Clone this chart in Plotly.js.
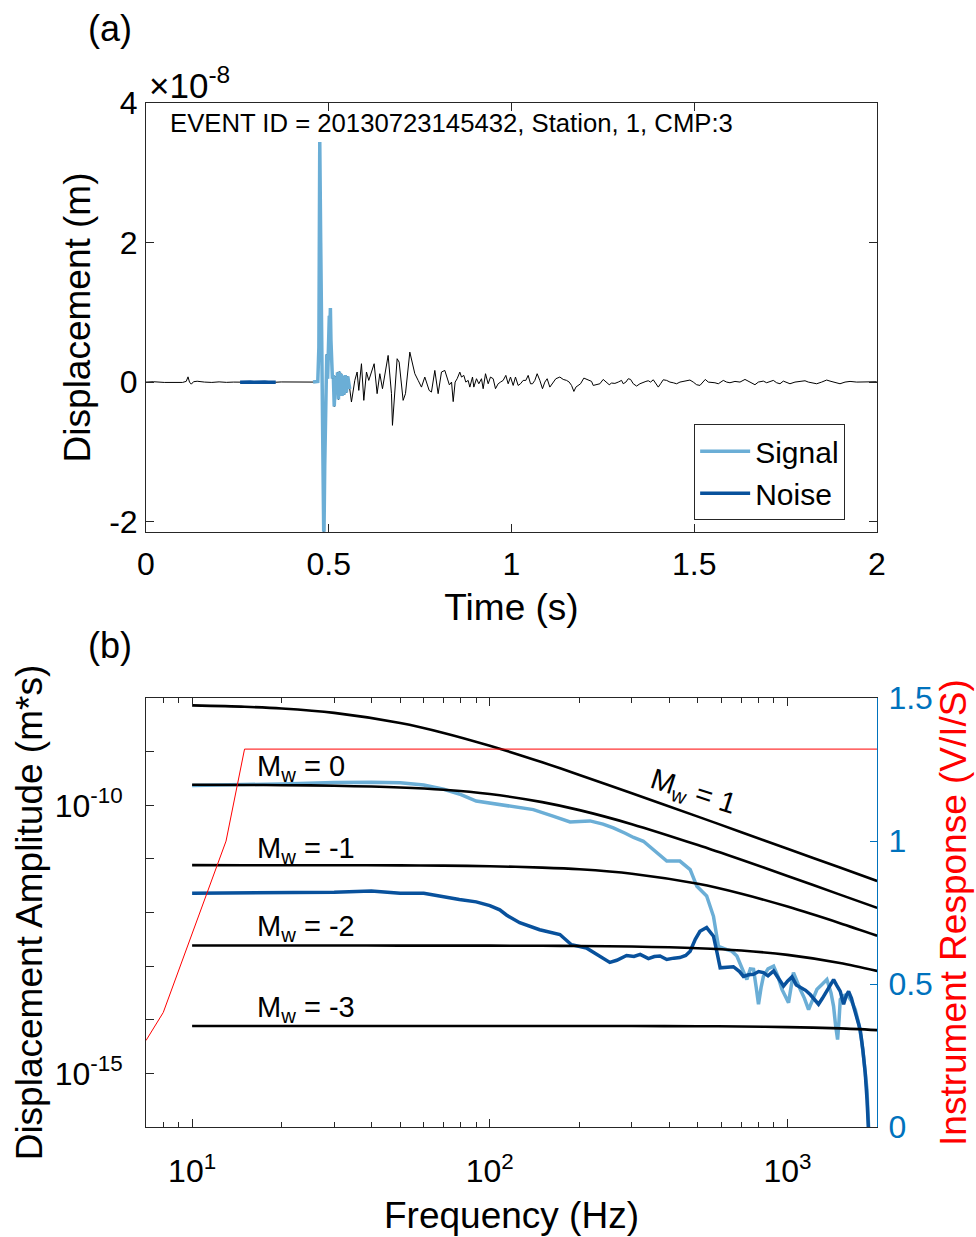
<!DOCTYPE html>
<html>
<head>
<meta charset="utf-8">
<script src="https://cdn.plot.ly/plotly-3.0.1.min.js"></script>
<style>html,body{margin:0;padding:0;background:#fff}#chart{width:976px;height:1237px}</style>
</head>
<body>
<div id="chart"></div>
<script>
// ---------------- (a) waveform data (displacement in units of 1e-8 m) ----------------
const timeS = [0,0.02,0.05,0.08,0.10,0.110,0.115,0.119,0.124,0.130,0.14,0.16,0.18,0.20,0.22,0.24,0.2574,0.265,0.275,0.285,0.295,0.305,0.315,0.325,0.335,0.345,0.355,0.37,0.39,0.41,0.43,0.445,
0.457,0.4650,0.4700,0.4730,0.4754,0.4780,0.4809,0.4840,0.4866,0.4890,0.4918,0.4945,0.4970,0.4995,0.5015,0.5030,0.5045,0.5060,0.5080,0.5100,0.5125,0.5150,0.5170,0.5190,0.5215,0.5240,0.5265,0.5290,0.5315,0.5340,0.5365,0.5390,0.5420,0.5450,0.5480,0.5520,0.5575,
0.5621,0.5713,0.5776,0.5822,0.5895,0.5959,0.6032,0.6095,0.6242,0.6323,0.6397,0.6470,0.6625,0.6716,0.6743,0.6871,0.6926,0.7035,0.7099,0.7218,0.7355,0.7446,0.7537,0.7628,0.7747,0.7810,0.7902,0.7993,0.8084,0.8175,0.8300,0.8360,0.8405,
0.8458,0.8513,0.8586,0.8632,0.8695,0.8750,0.8814,0.8860,0.8933,0.8969,0.9042,0.9106,0.9179,0.9225,0.9289,0.9362,0.9425,0.9499,0.9562,0.9635,0.9699,0.9772,0.9845,0.9909,0.9973,1.0046,1.0109,1.0182,1.0246,1.0319,1.0392,1.0456,1.0520,1.0575,1.0638,1.0702,1.0775,1.0848,1.0912,1.0976,1.1049,1.1122,1.1213,1.1322,
1.1415,1.1506,1.1579,1.1643,1.1707,1.1762,1.1825,1.1889,1.1980,1.2053,1.2126,1.2190,1.2236,1.2327,1.2418,1.2509,1.2601,1.2674,1.2738,1.2829,1.2920,1.3011,1.3057,1.3130,1.3194,1.3258,1.3331,1.3422,1.3514,1.3605,1.3678,1.3742,1.3806,1.3879,1.3952,1.4016,1.4079,1.4152,1.4244,1.4335,1.4426,1.4517,1.4609,1.4700,1.4791,1.4882,1.4973,1.5065,1.5156,1.5247,1.5302,1.5384,1.5475,1.5566,
1.5658,1.5795,1.5886,1.5977,1.6114,1.6251,1.6388,1.6479,1.6570,1.6661,1.6753,1.6890,1.6981,1.7072,1.7163,1.7254,1.7346,1.7437,1.7528,1.7619,1.7756,1.7893,1.8030,1.8121,1.8213,1.8350,1.8486,1.8623,1.8715,1.8852,1.8988,1.9125,1.9262,1.9445,1.9627,1.9810,1.9992];
const dispE8 = [0,0.005,-0.005,0,-0.005,0.01,0.075,0.0,-0.03,0.005,0.012,0.0,-0.005,0.003,-0.004,0.0,-0.002,0.002,-0.003,0.001,-0.002,0.002,-0.004,0.001,-0.003,0.002,-0.002,0.002,0.0,-0.004,0.003,0.0,
0.0,0.0,0.01,0.5,3.44,2.0,0.0,-1.8,-2.35,-1.2,0.2,0.4,0.05,0.5,0.95,0.7,1.06,0.6,0.3,0.05,0.1,-0.35,-0.1,0.08,-0.15,0.14,-0.25,0.15,-0.12,0.12,-0.2,0.08,-0.18,0.10,-0.15,0.08,-0.1,
-0.286,0.024,0.144,-0.119,0.263,-0.262,0.144,0.024,0.263,-0.166,0.12,-0.095,0.382,-0.166,-0.62,0.335,0.286,-0.262,-0.166,0.43,0.12,0.024,-0.072,0.072,-0.119,-0.143,0.167,-0.166,0.144,0.167,-0.04,0.0,-0.28,
0.0,0.048,0.143,0.072,0.096,0.0,0.024,-0.072,0.072,-0.072,0.048,-0.024,0.048,-0.095,0.12,-0.024,0.072,0.048,-0.095,-0.024,0.0,0.024,0.096,-0.024,0.072,-0.048,0.072,-0.048,-0.024,0.024,0.024,0.096,-0.024,-0.024,0.024,0.12,0.024,-0.095,0.0,0.048,-0.072,-0.024,0.048,0.072,
0.038,0.024,0.0,-0.048,-0.134,-0.072,-0.048,-0.024,0.057,0.038,0.024,0.010,-0.048,-0.038,-0.024,0.038,0.0,-0.038,-0.014,-0.019,0.0,0.024,-0.024,0.0,0.048,0.038,-0.024,-0.057,-0.024,0.0,0.010,0.019,0.0,0.033,-0.024,-0.072,-0.024,0.033,0.024,0.0,-0.010,-0.024,0.0,0.010,0.014,0.029,0.0,-0.038,-0.048,0.0,0.038,0.0,0.0,-0.010,
-0.024,0.024,0.0,-0.0095,0.0095,0.0,0.038,0.0095,-0.0095,-0.038,0.0,0.014,-0.0095,0.0095,0.024,-0.0095,-0.024,0.014,-0.0095,-0.024,0.0,0.0095,0.019,0.0,-0.0095,-0.024,0.0,0.029,0.014,-0.0095,-0.024,0.0,0.0095,0.0,0.005,0.0,0.005];
const signalWindowS = [0.457, 0.5575];
const noiseWindowS = [0.2574, 0.355];
const timeTickVals = [0, 0.5, 1, 1.5, 2];
const timeTickText = ['0', '0.5', '1', '1.5', '2'];
const dispTickVals = [-2, 0, 2, 4];
const dispTickText = ['-2', '0', '2', '4'];

// ---------------- (b) spectra (log10 of displacement amplitude, m*s) ----------------
const sigFreq = [10,15,20,30,40,50,60,70,80,90,100,108,120,140,163,186,200,217,240,260,285,304,328,364,393,435,471,496,535,564,586,625,650,676,700,730,750,769,785,799,815,830,860,898,930,957,1008,1047,1103,1140,1177,1220,1256,1300,1356,1400,1428,1450,1473,1490,1504,1540,1584,1640,1689,1733,1770,1800,1849,1872,1880];
const sigLogAmp = [-9.63,-9.62,-9.60,-9.575,-9.567,-9.58,-9.62,-9.70,-9.80,-9.92,-9.96,-9.983,-10.03,-10.08,-10.20,-10.31,-10.30,-10.29,-10.35,-10.42,-10.52,-10.60,-10.67,-10.88,-11.04,-11.04,-11.20,-11.51,-11.69,-12.07,-12.63,-12.69,-12.72,-12.81,-13.0,-13.25,-13.05,-13.06,-13.4,-13.71,-13.4,-13.19,-13.05,-13.0,-13.2,-13.43,-13.68,-13.12,-13.43,-13.6,-13.81,-13.6,-13.43,-13.35,-13.25,-13.5,-13.75,-14.1,-14.37,-14.0,-13.62,-13.55,-13.53,-13.65,-13.81,-14.06,-14.35,-14.68,-15.30,-15.99,-16.3];
const noiseFreq = [10,15,20,30,40,50,60,72,79,90,100,108,114,126,147,172,188,211,234,253,267,288,305,320,341,357,373,393,415,435,455,471,490,508,535,564,580,594,658,690,711,740,769,800,830,860,898,935,970,1000,1035,1070,1103,1150,1192,1230,1271,1310,1356,1390,1428,1460,1504,1543,1575,1604,1640,1667,1710,1754,1790,1824,1850,1872,1880];
const noiseLogAmp = [-11.638,-11.635,-11.63,-11.62,-11.60,-11.64,-11.64,-11.72,-11.755,-11.80,-11.87,-11.95,-12.05,-12.19,-12.32,-12.41,-12.60,-12.66,-12.81,-12.93,-12.89,-12.80,-12.82,-12.78,-12.86,-12.82,-12.81,-12.875,-12.85,-12.84,-12.80,-12.72,-12.50,-12.35,-12.28,-12.44,-12.75,-13.03,-13.01,-13.10,-13.19,-13.16,-13.15,-13.10,-13.12,-13.18,-13.09,-13.25,-13.37,-13.28,-13.20,-13.35,-13.40,-13.45,-13.53,-13.62,-13.71,-13.60,-13.47,-13.35,-13.25,-13.35,-13.47,-13.71,-13.55,-13.47,-13.60,-13.75,-13.95,-14.18,-14.55,-14.99,-15.5,-15.99,-16.3];

// theoretical source spectra for each magnitude
const mwFreq = [10,15,20,30,50,70,100,150,200,300,500,700,1000,1500,2000];
const mwLabels = ['1','0','-1','-2','-3'];
const mwP1LogAmp = [-8.136,-8.161,-8.193,-8.275,-8.464,-8.649,-8.889,-9.198,-9.432,-9.773,-10.210,-10.501,-10.809,-11.161,-11.411];
const mw0LogAmp = [-9.617,-9.620,-9.624,-9.634,-9.666,-9.709,-9.789,-9.940,-10.089,-10.351,-10.741,-11.016,-11.317,-11.665,-11.913];
const mwM1LogAmp = [-11.115,-11.116,-11.116,-11.117,-11.120,-11.125,-11.136,-11.161,-11.193,-11.275,-11.464,-11.649,-11.889,-12.198,-12.432];
const mwM2LogAmp = [-12.615,-12.615,-12.615,-12.615,-12.616,-12.616,-12.617,-12.620,-12.624,-12.634,-12.666,-12.709,-12.789,-12.940,-13.089];
const mwM3LogAmp = [-14.115,-14.115,-14.115,-14.115,-14.115,-14.115,-14.115,-14.116,-14.116,-14.117,-14.120,-14.125,-14.136,-14.161,-14.193];

// instrument response (V/I/S)
const respFreq = [7, 8, 13, 15, 2000];
const respValue = [0.3025, 0.4006, 1.0, 1.3217, 1.3217];

const freqTickVals = [10, 100, 1000];
const freqTickText = ['10<sup>1</sup>', '10<sup>2</sup>', '10<sup>3</sup>'];
const freqMinorVals = [8,9,20,30,40,50,60,70,80,90,200,300,400,500,600,700,800,900];
const ampTickVals = [1e-15, 1e-10];
const ampTickText = ['10<sup>-15</sup>', '10<sup>-10</sup>'];
const ampUnlabelledDecades = [1e-16,1e-14,1e-13,1e-12,1e-11,1e-9,1e-8];
const respTickVals = [0, 0.5, 1, 1.5];
const respTickText = ['0', '0.5', '1', '1.5'];

// ---------------- build ----------------
const inWin = (w) => timeS.map((t, i) => (t >= w[0] && t <= w[1]) ? i : -1).filter(i => i >= 0);
const sigIdx = inWin(signalWindowS), noiseIdx = inWin(noiseWindowS);
const pow10 = a => a.map(v => Math.pow(10, v));

const sigColor = '#6BAED6', noiseColor = '#08519C', axLine = '#262626', rightBlue = '#0072BD';
const fam = '"Liberation Sans", Arial, Helvetica, sans-serif';

const traces = [
  {x: timeS, y: dispE8, xaxis: 'x', yaxis: 'y', mode: 'lines', line: {color: '#000', width: 1}, showlegend: false},
  {x: sigIdx.map(i => timeS[i]), y: sigIdx.map(i => dispE8[i]), xaxis: 'x', yaxis: 'y', mode: 'lines', name: 'Signal', line: {color: sigColor, width: 3.5}},
  {x: noiseIdx.map(i => timeS[i]), y: noiseIdx.map(i => dispE8[i]), xaxis: 'x', yaxis: 'y', mode: 'lines', name: 'Noise', line: {color: noiseColor, width: 3.5}},
  {x: sigFreq, y: pow10(sigLogAmp), xaxis: 'x2', yaxis: 'y2', mode: 'lines', line: {color: sigColor, width: 3.5}, showlegend: false},
  {x: noiseFreq, y: pow10(noiseLogAmp), xaxis: 'x2', yaxis: 'y2', mode: 'lines', line: {color: noiseColor, width: 3.5}, showlegend: false}
];
[mwP1LogAmp, mw0LogAmp, mwM1LogAmp, mwM2LogAmp, mwM3LogAmp].forEach(arr => {
  traces.push({x: mwFreq, y: pow10(arr), xaxis: 'x2', yaxis: 'y2', mode: 'lines', line: {color: '#000', width: 2.6, shape: 'spline', smoothing: 0.8}, showlegend: false});
});
traces.push({x: respFreq, y: respValue, xaxis: 'x2', yaxis: 'y3', mode: 'lines', line: {color: '#FF0000', width: 1}, showlegend: false});

// pixel -> paper helpers (plot area spans L..R horizontally and T..B vertically)
const L = 146.3, R = 876.7, T = 102.7, B = 1127;
const px = x => (x - L) / (R - L);
const py = y => (B - y) / (B - T);

const common = {showgrid: false, zeroline: false, showline: true, linecolor: axLine, linewidth: 1, ticks: 'inside', tickcolor: axLine, tickwidth: 1, ticklen: 8, tickfont: {size: 32, color: '#000'}, automargin: false};
const titleFont = {size: 37, color: '#000'};

const ann = (x, y, text, opts) => Object.assign({xref: 'paper', yref: 'paper', x: px(x), y: py(y), text: text, showarrow: false, font: {size: 29, color: '#000'}, xanchor: 'left', yanchor: 'middle'}, opts || {});

const layout = {
  width: 976, height: 1237,
  margin: {l: L, r: 976 - R, t: T, b: 1237 - B, pad: 0},
  paper_bgcolor: '#fff', plot_bgcolor: '#fff',
  font: {family: fam, color: '#000', size: 30},
  hovermode: false,
  showlegend: true,
  legend: {x: px(694), y: py(424), xanchor: 'left', yanchor: 'top', bgcolor: '#fff', bordercolor: axLine, borderwidth: 1, font: {size: 30}, itemwidth: 50, tracegroupgap: 0},
  xaxis: Object.assign({}, common, {domain: [0, 1], anchor: 'y', range: [0, 2], tickmode: 'array', tickvals: timeTickVals, ticktext: timeTickText, mirror: 'ticks', ticklabelstandoff: 4,
    title: {text: 'Time (s)', font: titleFont, standoff: 12}}),
  yaxis: Object.assign({}, common, {domain: [py(531.7), 1], anchor: 'x', range: [-2.147, 4], tickmode: 'array', tickvals: dispTickVals, ticktext: dispTickText, mirror: 'ticks', ticklabelstandoff: 1,
    title: {text: 'Displacement (m)', font: titleFont, standoff: 7}}),
  xaxis2: Object.assign({}, common, {domain: [0, 1], anchor: 'y2', type: 'log', range: [Math.log10(7.0), Math.log10(1998)], tickmode: 'array', tickvals: freqTickVals, ticktext: freqTickText, mirror: 'ticks', ticklabelstandoff: 16,
    minor: {tickmode: 'array', tickvals: freqMinorVals, ticks: 'inside', ticklen: 5, tickcolor: axLine, tickwidth: 1},
    title: {text: 'Frequency (Hz)', font: titleFont, standoff: 13}}),
  yaxis2: Object.assign({}, common, {domain: [0, py(698)], anchor: 'x2', type: 'log', range: [-16, -8], tickmode: 'array', tickvals: ampTickVals, ticktext: ampTickText, mirror: false, ticklabelstandoff: 16,
    minor: {tickmode: 'array', tickvals: ampUnlabelledDecades, ticks: 'inside', ticklen: 8, tickcolor: axLine, tickwidth: 1},
    title: {text: 'Displacement Amplitude (m*s)', font: titleFont, standoff: 0}}),
  yaxis3: Object.assign({}, common, {overlaying: 'y2', side: 'right', anchor: 'x2', range: [0, 1.5], tickmode: 'array', tickvals: respTickVals, ticktext: respTickText,
    linecolor: rightBlue, tickcolor: rightBlue, tickfont: {size: 32, color: rightBlue}, ticklen: 7, ticklabelstandoff: 4,
    title: {text: 'Instrument Response (V/I/S)', font: {size: 37, color: '#FF0000'}, standoff: 0}}),
  annotations: [
    ann(110, 28, '(a)', {xanchor: 'center', font: {size: 36, color: '#000'}}),
    ann(147, 83, '×10<sup>-8</sup>', {font: {size: 35, color: '#000'}}),
    ann(168, 123, 'EVENT ID = 20130723145432, Station, 1, CMP:3', {font: {size: 25.7, color: '#000'}}),
    ann(110, 645, '(b)', {xanchor: 'center', font: {size: 36, color: '#000'}}),
    ann(255, 768, 'M<sub>w</sub> = ' + mwLabels[1]),
    ann(255, 850, 'M<sub>w</sub> = ' + mwLabels[2]),
    ann(255, 928, 'M<sub>w</sub> = ' + mwLabels[3]),
    ann(255, 1009, 'M<sub>w</sub> = ' + mwLabels[4]),
    ann(693, 793, 'M<sub>w</sub> = ' + mwLabels[0], {xanchor: 'center', textangle: 18})
  ]
};

Plotly.newPlot('chart', traces, layout, {staticPlot: true, displayModeBar: false});
</script>
</body>
</html>
